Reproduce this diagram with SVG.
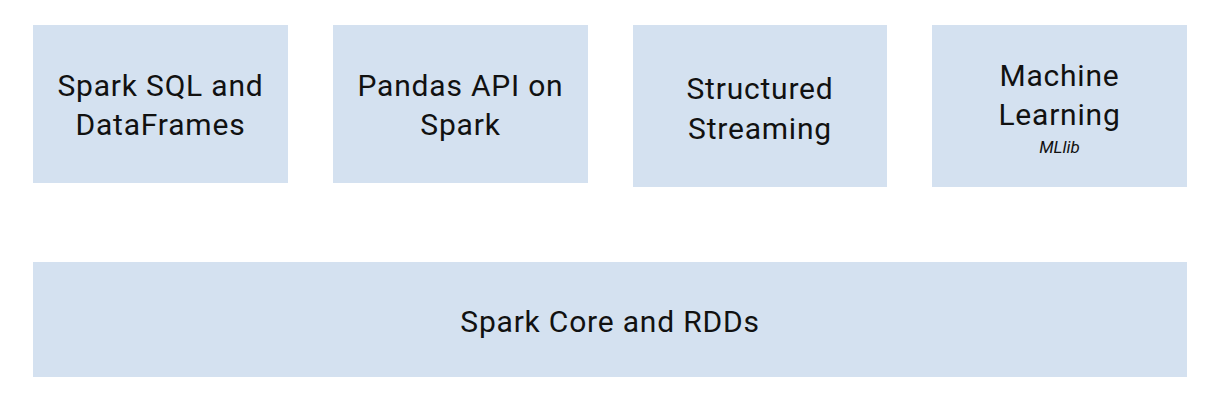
<svg xmlns="http://www.w3.org/2000/svg" width="1224" height="404" viewBox="0 0 1224 404">
<style>
.box{fill:#d4e1f0}
.t{font-family:Roboto,"Liberation Sans",sans-serif;font-size:30px;letter-spacing:0.8px;fill:#111;text-anchor:middle}
.s{font-family:Roboto,"Liberation Sans",sans-serif;font-size:17px;font-style:italic;fill:#111;text-anchor:middle}
</style>
<rect width="1224" height="404" fill="#fff"/>
<g id="sql"><rect class="box" x="33" y="25" width="255" height="158"/><text class="t" x="160.5" y="96">Spark SQL and</text><text class="t" x="160.5" y="135">DataFrames</text></g>
<g id="pandas"><rect class="box" x="333" y="25" width="255" height="158"/><text class="t" x="460.5" y="96">Pandas API on</text><text class="t" x="460.5" y="135">Spark</text></g>
<g id="streaming"><rect class="box" x="633" y="25" width="254" height="162"/><text class="t" x="760" y="99">Structured</text><text class="t" x="760" y="139">Streaming</text></g>
<g id="ml"><rect class="box" x="932" y="25" width="255" height="162"/><text class="t" x="1059.5" y="86">Machine</text><text class="t" x="1059.5" y="125">Learning</text><text class="s" x="1059.5" y="153">MLlib</text></g>
<g id="core"><rect class="box" x="33" y="262" width="1154" height="115"/><text class="t" x="610" y="332">Spark Core and RDDs</text></g>
<g id="connectors"></g>
</svg>
